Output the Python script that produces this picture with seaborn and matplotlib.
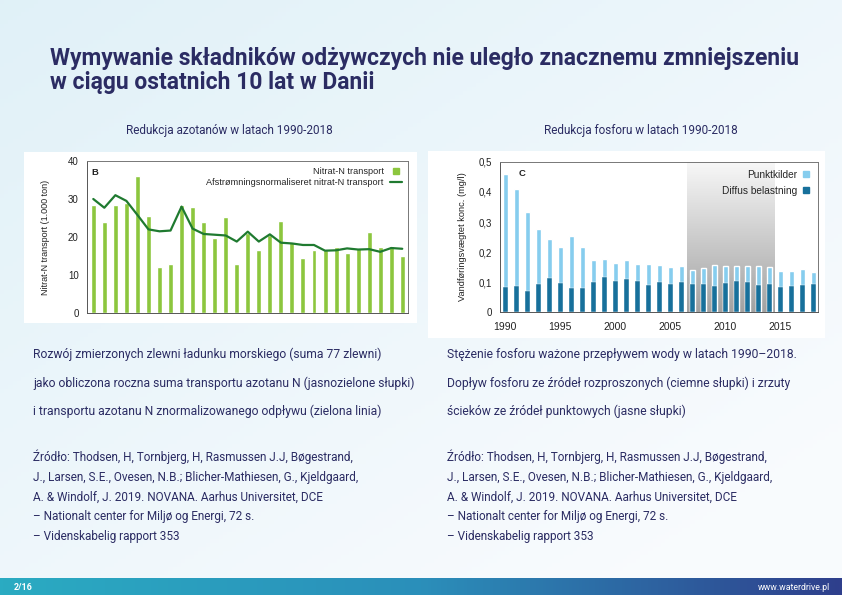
import numpy as np
import matplotlib
matplotlib.use("Agg")
import matplotlib.pyplot as plt
import seaborn as sns
from matplotlib.patches import Rectangle
from matplotlib.lines import Line2D
from matplotlib.colors import LinearSegmentedColormap

# ---------------- data ----------------
years = list(range(1990, 2019))
nitrate_transport = [28.5, 24.0, 28.3, 29.0, 36.0, 25.5, 12.0, 12.8, 28.3, 27.8,
                     24.0, 19.7, 25.2, 12.8, 21.0, 16.7, 20.5, 24.3, 18.7, 14.5,
                     16.7, 16.5, 17.3, 15.7, 17.0, 21.2, 17.3, 17.7, 15.1]
nitrate_normalised = [30.0, 27.7, 31.0, 29.5, 25.8, 22.0, 21.5, 21.7, 28.0, 22.2,
                      20.8, 20.6, 20.4, 18.8, 21.4, 18.8, 20.7, 18.5, 18.3, 17.9,
                      17.9, 16.4, 16.5, 17.0, 16.7, 16.8, 16.1, 17.1, 16.9]
p_total = [0.460, 0.410, 0.332, 0.275, 0.242, 0.217, 0.252, 0.216, 0.175, 0.178,
           0.163, 0.172, 0.160, 0.160, 0.158, 0.150, 0.152, 0.140, 0.148, 0.158,
           0.153, 0.155, 0.155, 0.152, 0.150, 0.138, 0.137, 0.142, 0.135]
p_diffuse = [0.085, 0.087, 0.070, 0.092, 0.113, 0.096, 0.080, 0.080, 0.100, 0.117,
             0.103, 0.110, 0.105, 0.090, 0.100, 0.092, 0.100, 0.093, 0.093, 0.087,
             0.097, 0.103, 0.100, 0.090, 0.093, 0.085, 0.087, 0.090, 0.093]
n_yticks = [0, 10, 20, 30, 40]
p_yticks = [0, 0.1, 0.2, 0.3, 0.4, 0.5]
p_yticklabels = ["0", "0,1", "0,2", "0,3", "0,4", "0,5"]
shade_years = (2006.5, 2014.5)

title_lines = ["Wymywanie składników odżywczych nie uległo znacznemu zmniejszeniu",
               "w ciągu ostatnich 10 lat w Danii"]
left_sub = "Redukcja azotanów w latach 1990-2018"
right_sub = "Redukcja fosforu w latach 1990-2018"
left_desc = ["Rozwój zmierzonych zlewni ładunku morskiego (suma 77 zlewni)",
             "jako obliczona roczna suma transportu azotanu N (jasnozielone słupki)",
             "i transportu azotanu N znormalizowanego odpływu (zielona linia)"]
right_desc = ["Stężenie fosforu ważone przepływem wody w latach 1990–2018.",
              "Dopływ fosforu ze źródeł rozproszonych (ciemne słupki) i zrzuty",
              "ścieków ze źródeł punktowych (jasne słupki)"]
source = ["Źródło: Thodsen, H, Tornbjerg, H, Rasmussen J.J, Bøgestrand,",
          "J., Larsen, S.E., Ovesen, N.B.; Blicher-Mathiesen, G., Kjeldgaard,",
          "A. & Windolf, J. 2019. NOVANA. Aarhus Universitet, DCE",
          "– Nationalt center for Miljø og Energi, 72 s.",
          "– Videnskabelig rapport 353"]

# ---------------- style ----------------
sns.set_style("white")
plt.rcParams["font.family"] = ["Roboto", "DejaVu Sans"]

W, H = 842, 595
fx = lambda px: px / W
fy = lambda py: 1 - py / H

NAVY = "#2b2c63"
CHART_FONT = ["Liberation Sans", "DejaVu Sans"]
LIGHT_GREEN = "#8cc63e"
DARK_GREEN = "#1f7a30"
LIGHT_BLUE = "#86cdee"
DARK_BLUE = "#17709b"
SPINE = "#555555"

fig = plt.figure(figsize=(W / 100, H / 100), dpi=100)

# background
bg = fig.add_axes([0, 0, 1, 1], zorder=-5)
xx, yy = np.meshgrid(np.linspace(0, 1, 200), np.linspace(0, 1, 150))
t = np.clip(0.55 * xx + 0.6 * yy, 0, 1)
c0 = np.array([0.88, 0.945, 0.972])
c1 = np.array([0.975, 0.985, 0.995])
img = c0[None, None, :] * (1 - t[..., None]) + c1[None, None, :] * t[..., None]
bg.imshow(img, extent=(0, 1, 0, 1), aspect="auto", origin="upper")
bg.set_xlim(0, 1)
bg.set_ylim(0, 1)
bg.axis("off")

# white boxes behind charts
bg.add_patch(Rectangle((fx(24), fy(323)), fx(417) - fx(24), fy(152) - fy(323),
                       facecolor="white", edgecolor="none", zorder=2))
bg.add_patch(Rectangle((fx(428), fy(338)), fx(825) - fx(428), fy(151) - fy(338),
                       facecolor="white", edgecolor="none", zorder=2))

# footer band
foot = fig.add_axes([0, 0, 1, 17 / H], zorder=-4)
fcm = LinearSegmentedColormap.from_list("foot", ["#2aabc2", "#2b8fba", "#2f3f8c"])
foot.imshow(np.linspace(0, 1, 256)[None, :], cmap=fcm, aspect="auto", extent=(0, 1, 0, 1))
foot.axis("off")
fig.text(fx(14), fy(587), "2/16", color="white", fontsize=6.5, fontweight="bold", va="center")
fig.text(fx(830), fy(587), "www.waterdrive.pl", color="white", fontsize=6.3, va="center", ha="right")

# title
fig.text(fx(50), fy(65), title_lines[0], color=NAVY, fontsize=16.5, fontweight="bold", va="baseline")
fig.text(fx(50), fy(89.5), title_lines[1], color=NAVY, fontsize=16.5, fontweight="bold", va="baseline")

# subtitles
fig.text(fx(229), fy(134), left_sub, color=NAVY, fontsize=8.5, ha="center", va="baseline")
fig.text(fx(641), fy(134), right_sub, color=NAVY, fontsize=8.5, ha="center", va="baseline")

# descriptions
for i, s in enumerate(left_desc):
    fig.text(fx(33), fy(358 + 28.5 * i), s, color=NAVY, fontsize=8.7, va="baseline")
for i, s in enumerate(right_desc):
    fig.text(fx(447), fy(358 + 28.5 * i), s, color=NAVY, fontsize=8.7, va="baseline")
for i, s in enumerate(source):
    fig.text(fx(33), fy(461 + 19.8 * i), s, color=NAVY, fontsize=8.5, va="baseline")
    fig.text(fx(447), fy(461 + 19.8 * i), s, color=NAVY, fontsize=8.5, va="baseline")


def style_axes(ax):
    for sp in ax.spines.values():
        sp.set_visible(True)
        sp.set_color("#777777")
        sp.set_linewidth(0.7)
    ax.spines["left"].set_color(SPINE)
    ax.spines["bottom"].set_color(SPINE)
    ax.tick_params(axis="both", which="both", direction="out", color=SPINE,
                   width=0.6, labelsize=7, labelcolor="#222222", pad=1.5)
    ax.tick_params(axis="y", length=3.5)
    for lab in ax.get_xticklabels() + ax.get_yticklabels():
        lab.set_fontfamily(CHART_FONT)
    ax.set_facecolor("white")


# ---------------- left chart (nitrate) ----------------
ax1 = fig.add_axes([fx(87), fy(313), fx(408) - fx(87), fy(161) - fy(313)])
sns.barplot(x=years, y=nitrate_transport, native_scale=True, width=0.45,
            color=LIGHT_GREEN, saturation=1, errorbar=None, ax=ax1)
sns.lineplot(x=years, y=nitrate_normalised, color=DARK_GREEN, linewidth=1.6, ax=ax1)
ax1.set_xlim(years[0] - 0.57, years[-1] + 0.52)
ax1.set_ylim(0, 40)
ax1.set_yticks(n_yticks)
ax1.set_yticklabels([str(v) for v in n_yticks])
ax1.set_xticks([y for y in years if y % 10 == 0])
ax1.set_xticks(years, minor=True)
ax1.set_xticklabels([])
ax1.set_xlabel("")
ax1.set_ylabel("Nitrat-N transport (1.000 ton)", fontsize=6.5, family=CHART_FONT,
               color="#222222", labelpad=13)
style_axes(ax1)
ax1.tick_params(axis="x", which="major", length=5)
ax1.tick_params(axis="x", which="minor", length=3)
ax1.tick_params(axis="y", pad=2.5)
ax1.text(0.015, 0.955, "B", transform=ax1.transAxes, fontsize=6.8, fontweight="bold",
         family=CHART_FONT, va="top", color="#222222")
h1 = [Line2D([], [], marker="s", linestyle="none", markersize=4.8, color=LIGHT_GREEN),
      Line2D([], [], color=DARK_GREEN, linewidth=1.6)]
ax1.legend(h1, ["Nitrat-N transport", "Afstrømningsnormaliseret nitrat-N transport"],
           loc="upper right", frameon=False, markerfirst=False, handlelength=1.3,
           handletextpad=0.7, labelspacing=0.2, borderaxespad=0.25,
           prop={"family": CHART_FONT, "size": 6.6})

# ---------------- right chart (phosphorus) ----------------
ax2 = fig.add_axes([fx(500), fy(312), fx(818) - fx(500), fy(162) - fy(312)])
gcm = LinearSegmentedColormap.from_list("shade", ["#f8f8f8", "#a2a2a2"])
ax2.imshow(np.linspace(0, 1, 256)[:, None], cmap=gcm, aspect="auto", origin="upper",
           extent=(shade_years[0], shade_years[1], 0, 0.5), zorder=0)
sns.barplot(x=years, y=p_total, native_scale=True, width=0.42, color=LIGHT_BLUE,
            saturation=1, errorbar=None, ax=ax2)
sns.barplot(x=years, y=p_diffuse, native_scale=True, width=0.42, color=DARK_BLUE,
            saturation=1, errorbar=None, ax=ax2, edgecolor="white", linewidth=0.3)
ax2.set_xlim(years[0] - 0.48, years[-1] + 0.43)
ax2.set_ylim(0, 0.5)
ax2.set_yticks(p_yticks)
ax2.set_yticklabels(p_yticklabels)
ax2.set_xticks(years)
ax2.set_xticklabels([str(y) if y % 5 == 0 else "" for y in years])
ax2.set_xlabel("")
ax2.set_ylabel("Vandføringsvægtet konc. (mg/l)", fontsize=6.7, family=CHART_FONT,
               color="#222222", labelpad=8)
style_axes(ax2)
ax2.tick_params(axis="x", length=3, pad=4, labelsize=7.5)
ax2.tick_params(axis="y", pad=2.5)
ax2.text(0.06, 0.95, "C", transform=ax2.transAxes, fontsize=6.8, fontweight="bold",
         family=CHART_FONT, va="top", color="#222222")
h2 = [Line2D([], [], marker="s", linestyle="none", markersize=4.8, color=LIGHT_BLUE),
      Line2D([], [], marker="s", linestyle="none", markersize=4.8, color=DARK_BLUE)]
ax2.legend(h2, ["Punktkilder", "Diffus belastning"], loc="upper right", frameon=False,
           markerfirst=False, handlelength=0.8, handletextpad=0.5, labelspacing=0.6,
           borderaxespad=0.35, prop={"family": CHART_FONT, "size": 7.3})

fig.savefig("out.png", dpi=100)
